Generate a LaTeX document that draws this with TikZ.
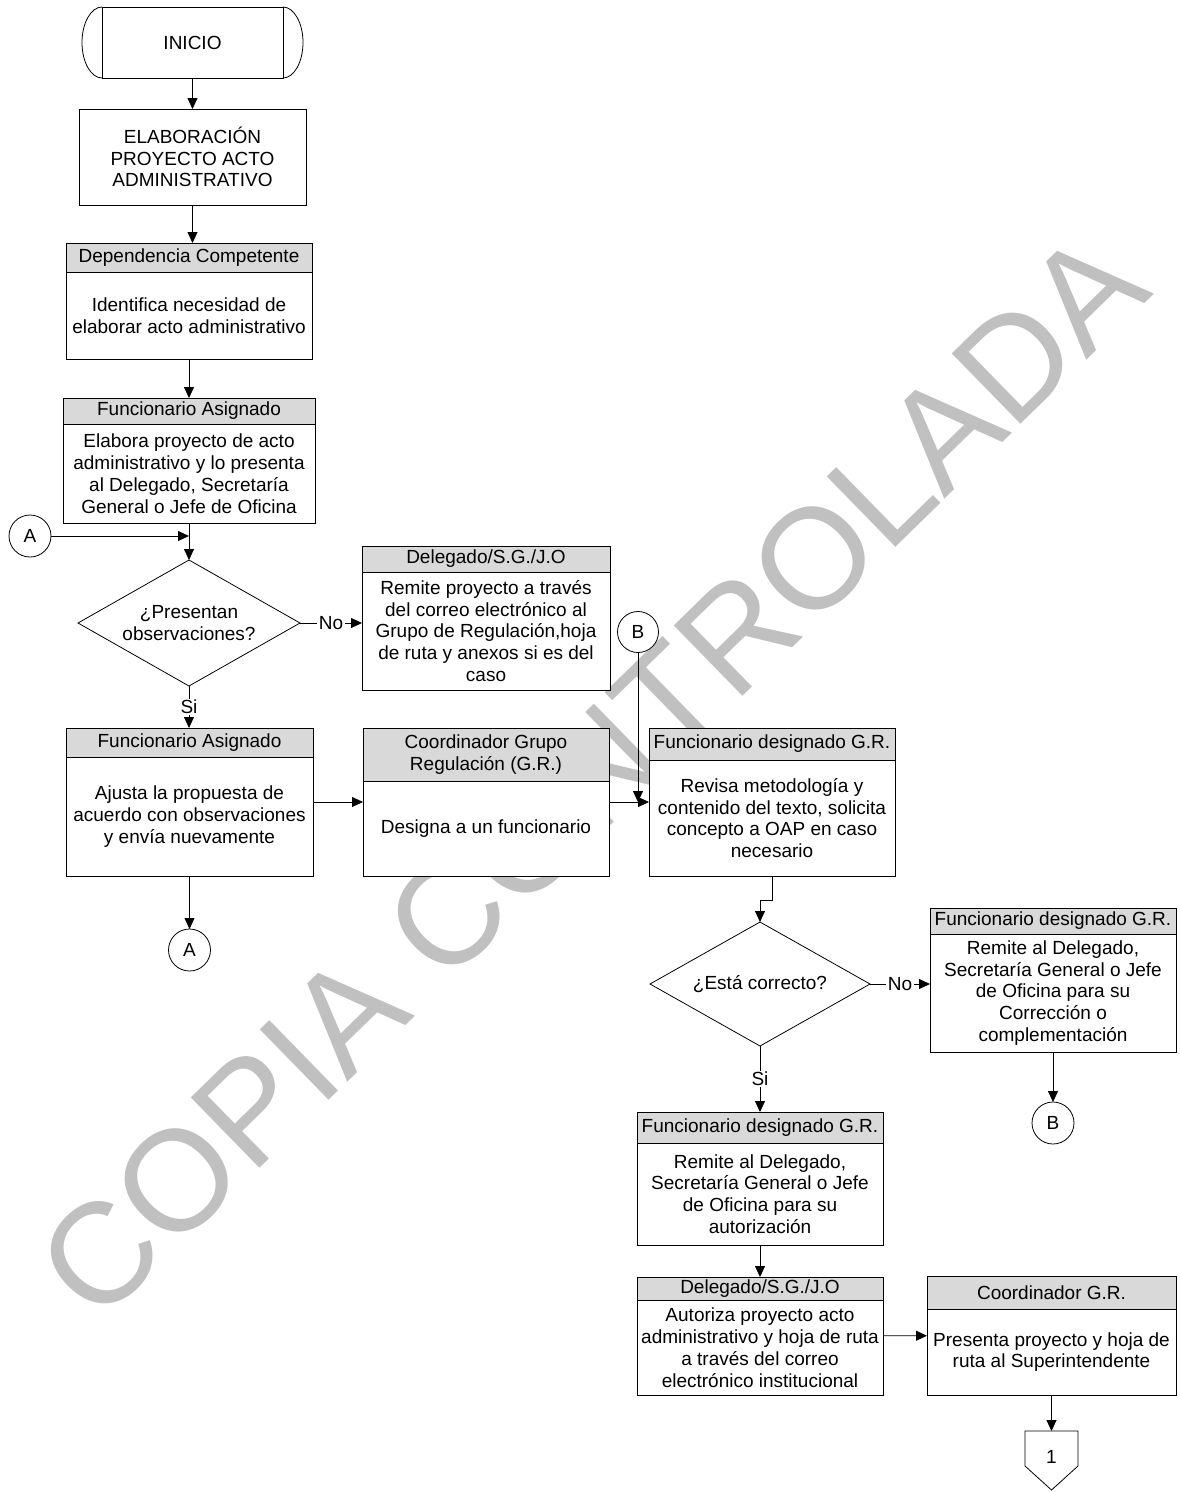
\documentclass[tikz,border=0pt]{standalone}
\usepackage{fontspec}
\setmainfont{Liberation Sans}
\usetikzlibrary{arrows.meta,shapes.geometric,calc}
\definecolor{hdrgray}{RGB}{217,217,217}
\definecolor{wmgray}{RGB}{192,192,192}
\newcommand\procbox[8]{%
  \node[outerbox, minimum width=#4pt, minimum height=#5pt] (#1) at (#2,#3) {};
  \node[headbox, minimum width=#4pt, minimum height=#6pt, anchor=north] (#1h) at (#1.north) {#7};
  \node[txt] (#1t) at ($(#1h.south)!0.5!(#1.south)$) {#8};
}
\begin{document}
\begin{tikzpicture}[x=1pt,y=-1pt,
  every node/.style={font=\fontsize{19}{21.8}\selectfont, inner sep=0pt, outer sep=0pt},
  line/.style={line width=0.8pt, black},
  arr/.style={line, -{Triangle[length=11pt,width=10pt]}},
  outerbox/.style={draw, line width=0.8pt, fill=white},
  headbox/.style={draw, line width=0.8pt, fill=hdrgray, align=center},
  txt/.style={align=center},
  conn/.style={circle, draw, line width=0.8pt, fill=white, minimum size=42pt},
  decision/.style={diamond, draw, line width=0.8pt, fill=white, align=center, shape aspect=1.76},
  lbl/.style={fill=white, inner sep=1.5pt}]
\fill[white] (0,0) rectangle (1179,1492);
\useasboundingbox (0,0) rectangle (1179,1492);
% watermark
\node[text=wmgray, rotate=44.3, font=\fontsize{143}{150}\selectfont] (wm) at (592,775) {COPIA CONTROLADA};
% terminator
\node[draw, line width=0.8pt, fill=white, minimum width=181pt, minimum height=71pt] (ini) at (192.5,42.5) {INICIO};
\draw[line] (ini.north west) .. controls +(-11,0) and +(0,-19.6) .. ($(ini.west)+(-20,0)$)
  .. controls +(0,19.6) and +(-11,0) .. (ini.south west);
\draw[line] (ini.north east) .. controls +(11,0) and +(0,-19.6) .. ($(ini.east)+(20,0)$)
  .. controls +(0,19.6) and +(11,0) .. (ini.south east);
% first process
\node[outerbox, txt, minimum width=227pt, minimum height=96pt] (elab) at (192.5,157) {ELABORACIÓN\\PROYECTO ACTO\\ADMINISTRATIVO};
\procbox{dep}{189}{301}{246}{116}{29}{Dependencia Competente}{Identifica necesidad de\\elaborar acto administrativo}
\procbox{fa1}{189}{460.5}{252}{125}{26}{Funcionario Asignado}{Elabora proyecto de acto\\administrativo y lo presenta\\al Delegado, Secretaría\\General o Jefe de Oficina}
\node[conn] (A1) at (30,536) {A};
\node[decision, minimum width=222pt, minimum height=126pt] (dia1) at (189,623) {¿Presentan\\observaciones?};
\procbox{dele1}{486}{618}{248}{144}{26}{Delegado/S.G./J.O}{Remite proyecto a través\\del correo electrónico al\\Grupo de Regulación,hoja\\de ruta y anexos si es del\\caso}
\node[conn, minimum size=41pt] (B1) at (638,632) {B};
\procbox{fa2}{189.5}{802}{247}{148}{29}{Funcionario Asignado}{Ajusta la propuesta de\\acuerdo con observaciones\\y envía nuevamente}
\procbox{cg}{486}{802}{246}{148}{53}{Coordinador Grupo\\Regulación (G.R.)}{Designa a un funcionario}
\procbox{fdg1}{772}{802}{246}{148}{32}{Funcionario designado G.R.}{Revisa metodología y\\contenido del texto, solicita\\concepto a OAP en caso\\necesario}
\node[conn] (A2) at (189.5,950) {A};
\node[decision, minimum width=220pt, minimum height=124pt] (dia2) at (760,984) {¿Está correcto?};
\procbox{fdg2}{1053}{980}{246}{144}{26}{Funcionario designado G.R.}{Remite al Delegado,\\Secretaría General o Jefe\\de Oficina para su\\Corrección o\\complementación}
\node[conn] (B2) at (1053,1123) {B};
\procbox{fdg3}{760}{1178.5}{246}{133}{31}{Funcionario designado G.R.}{Remite al Delegado,\\Secretaría General o Jefe\\de Oficina para su\\autorización}
\procbox{dele2}{760}{1336}{246}{118}{23}{Delegado/S.G./J.O}{Autoriza proyecto acto\\administrativo y hoja de ruta\\a través del correo\\electrónico institucional}
\procbox{cgr}{1051.5}{1335.5}{249}{119}{33}{Coordinador G.R.}{Presenta proyecto y hoja de\\ruta al Superintendente}
% off-page connector
\node[minimum width=53pt, minimum height=59pt] (op1) at (1051.5,1460.5) {};
\draw[line, fill=white] (op1.north west) -- (op1.north east) -- ($(op1.north east)+(0,35)$) -- (op1.south) -- ($(op1.north west)+(0,35)$) -- cycle;
\node (op1t) at ($(op1.north)+(0,26)$) {1};
% connectors
\draw[arr] (ini.south) -- (elab.north);
\draw[arr] (elab.south) -- (elab.south |- dep.north);
\draw[arr] (dep.south) -- (fa1h.north);
\draw[arr] (fa1.south) -- (dia1.north);
\draw[arr] (A1.east) -- (A1 -| dia1.north);
\draw[arr] (dia1.east) -- node[lbl] {No} (dele1.west |- dia1.east);
\draw[arr] (dia1.south) -- node[lbl] {Si} (dia1.south |- fa2.north);
\draw[arr] (fa2) -- (cg);
\draw[arr] (cg) -- (fdg1);
\draw[arr] (B1.south) -- (B1.south |- fdg1.west);
\draw[arr] (fa2.south) -- (A2.north);
\draw[arr] (fdg1.south) -- ++(0,24) -| (dia2.north);
\draw[arr] (dia2.east) -- node[lbl] {No} (fdg2.west |- dia2.east);
\draw[arr] (fdg2.south) -- (B2.north);
\draw[arr] (dia2.south) -- node[lbl] {Si} (fdg3.north);
\draw[arr] (fdg3.south) -- (dele2.north);
\draw[arr] (dele2) -- (cgr);
\draw[arr] (cgr.south) -- (op1.north);
\end{tikzpicture}
\end{document}
